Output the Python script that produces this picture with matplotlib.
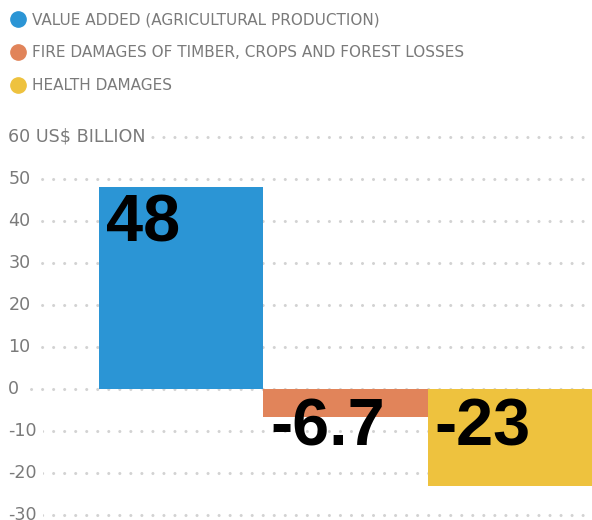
import matplotlib
matplotlib.use("Agg")
import matplotlib.pyplot as plt
from matplotlib.lines import Line2D
from matplotlib.transforms import blended_transform_factory

plt.rcParams["font.family"] = ["DejaVu Sans"]

# data
categories = ["VALUE ADDED (AGRICULTURAL PRODUCTION)",
              "FIRE DAMAGES OF TIMBER, CROPS AND FOREST LOSSES",
              "HEALTH DAMAGES"]
values = [48, -6.7, -23]
labels = ["48", "-6.7", "-23"]
colors = ["#2b95d5", "#e1845a", "#eec23e"]
yticks = [60, 50, 40, 30, 20, 10, 0, -10, -20, -30]
ytick_labels = ["60 US$ BILLION", "50", "40", "30", "20", "10", "0", "-10", "-20", "-30"]

gray = "#7a7a7a"

fig = plt.figure(figsize=(5.92, 5.20), dpi=100)
ax = fig.add_axes([0, 0, 1, 1])
ax.axis("off")

xpos = list(range(len(values)))
ax.bar(xpos, values, width=1.0, color=colors, zorder=2)
ax.set_xlim(-1.1, 2.5)
ax.set_ylim(-31.2, 92.6)

# dotted grid + tick labels
tr = blended_transform_factory(ax.transAxes, ax.transData)
for v, lab in zip(yticks, ytick_labels):
    ax.axhline(v, xmin=0.015, xmax=1, color="#d2d2d2", lw=2.2,
               ls=(0, (0.01, 3.6)), dash_capstyle="round", zorder=0)
    ax.text(0.014, v, lab, transform=tr, ha="left", va="center",
            fontsize=12.6, color=gray, zorder=1,
            bbox=dict(facecolor="white", edgecolor="none", pad=4))

# value labels
for x, v, lab in zip(xpos, values, labels):
    y = v if v > 0 else 0
    ax.annotate(lab, (x - 0.5, y), xytext=(5, -4.5 if v > 0 else -6.5),
                textcoords="offset points", ha="left", va="top",
                fontsize=48, fontweight="bold", family="Liberation Sans",
                color="black", zorder=3)

handles = [Line2D([], [], marker="o", ls="", color=c, markersize=11)
           for c in colors]
leg = ax.legend(handles, categories, loc="upper left", bbox_to_anchor=(0.0, 1.0),
                bbox_transform=fig.transFigure, frameon=False, fontsize=11,
                handlelength=0.8, handletextpad=0.5, labelspacing=1.18,
                borderaxespad=0.5, borderpad=0.3)
for t in leg.get_texts():
    t.set_color(gray)

fig.savefig("out.png", dpi=100)
